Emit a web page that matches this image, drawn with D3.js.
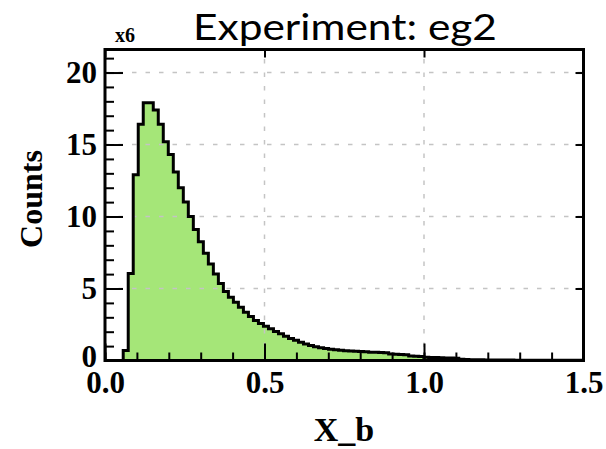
<!DOCTYPE html>
<html>
<head>
<meta charset="utf-8">
<script src="https://cdn.jsdelivr.net/npm/d3@7/dist/d3.min.js"></script>
<style>
  html, body { margin: 0; padding: 0; background: #fff; }
  svg { display: block; }
</style>
</head>
<body>
<svg id="chart" width="606" height="449"></svg>
<script>
// Histogram of X_b, counts in units of 10^6
const binStart = 0.01;
const binWidth = 0.0157;
const counts = [
  0, 0, 0, 0.7, 6.05, 12.9, 16.4, 17.9, 17.9, 17.4,
  16.4, 15.2, 14.3, 13.1, 12.0, 11.0, 10.0, 9.1, 8.25, 7.45,
  6.7, 6.0, 5.35, 4.8, 4.4, 4.05, 3.7, 3.35, 3.05, 2.78,
  2.57, 2.38, 2.2, 2.02, 1.85, 1.68, 1.53, 1.4, 1.27, 1.15,
  1.04, 0.96, 0.89, 0.83, 0.78, 0.74, 0.71, 0.68, 0.66, 0.64,
  0.62, 0.6, 0.58, 0.57, 0.56, 0.54, 0.46, 0.44, 0.42, 0.4,
  0.32, 0.3, 0.28, 0.22, 0.21, 0.2, 0.19, 0.18, 0.17, 0.15,
  0.08, 0.07, 0.06, 0.05, 0.05, 0.04, 0.04, 0.03, 0.03, 0.03,
  0.03, 0.02, 0.02, 0.02, 0.02, 0.02, 0.01, 0.01, 0.01, 0.01,
  0.01, 0.01, 0.01, 0.01, 0.01
];
const xTicks = [0, 0.5, 1.0, 1.5];
const xMinorTicks = d3.range(0, 15.01, 1).map(d => d / 10);
const yTicks = [0, 5, 10, 15, 20];
const yMinorTicks = d3.range(0, 22, 1);
const xGrid = [0.5, 1.0];
const yGrid = [5, 10, 15, 20];
const titleText = "Experiment: eg2";
const xLabel = "X_b";
const yLabel = "Counts";
const exponentLabel = "x6";

const svg = d3.select("#chart");
const frame = { left: 105, right: 583.5, top: 49.5, bottom: 360.5 };

const x = d3.scaleLinear().domain([0, 1.5]).range([frame.left, frame.right]);
const y = d3.scaleLinear().domain([0, 21.6]).range([frame.bottom, frame.top]);

const serif = "'Liberation Serif', 'Times New Roman', serif";

svg.append("defs").append("clipPath").attr("id", "plotClip")
  .append("rect")
  .attr("x", frame.left).attr("y", frame.top)
  .attr("width", frame.right - frame.left)
  .attr("height", frame.bottom - frame.top);

// Step outline of the histogram
let pts = [[x(binStart), y(0)]];
counts.forEach((c, i) => {
  const x0 = x(binStart + i * binWidth);
  const x1 = x(binStart + (i + 1) * binWidth);
  pts.push([x0, y(c)], [x1, y(c)]);
});
pts.push([x(binStart + counts.length * binWidth), y(0)]);
const stepPath = d3.line()(pts);

const plot = svg.append("g").attr("clip-path", "url(#plotClip)");

plot.append("path")
  .attr("d", stepPath + "Z")
  .attr("fill", "#a5e678")
  .attr("stroke", "none");

// Dashed grid
const grid = plot.append("g")
  .attr("stroke", "#c4c4c4")
  .attr("stroke-width", 1.5)
  .attr("stroke-dasharray", "4.5,9");
grid.selectAll(".gx").data(xGrid).join("line")
  .attr("x1", d => x(d)).attr("x2", d => x(d))
  .attr("y1", frame.bottom).attr("y2", frame.top);
grid.selectAll(".gy").data(yGrid).join("line")
  .attr("x1", frame.left).attr("x2", frame.right)
  .attr("y1", d => y(d)).attr("y2", d => y(d));

plot.append("path")
  .attr("d", stepPath)
  .attr("fill", "none")
  .attr("stroke", "#000")
  .attr("stroke-width", 3)
  .attr("stroke-linejoin", "miter");

// Axes with inward ticks
function styleAxis(g) {
  g.select(".domain").remove();
  g.selectAll(".tick line").attr("stroke", "#000").attr("stroke-width", 2);
}

svg.append("g")
  .attr("transform", `translate(0,${frame.bottom})`)
  .call(d3.axisBottom(x).tickValues(xMinorTicks).tickSize(-8).tickFormat(""))
  .call(styleAxis);

svg.append("g")
  .attr("transform", `translate(0,${frame.bottom})`)
  .call(d3.axisBottom(x).tickValues(xTicks).tickSize(-17).tickPadding(10)
    .tickFormat(d3.format(".1f")))
  .call(styleAxis)
  .call(g => g.selectAll("text")
    .attr("font-family", serif).attr("font-weight", "bold")
    .attr("font-size", 31).attr("fill", "#000"));

svg.append("g")
  .attr("transform", `translate(0,${frame.top})`)
  .call(d3.axisTop(x).tickValues(xTicks).tickSize(-8).tickFormat(""))
  .call(styleAxis);

svg.append("g")
  .attr("transform", `translate(${frame.left},0)`)
  .call(d3.axisLeft(y).tickValues(yMinorTicks).tickSize(-9).tickFormat(""))
  .call(styleAxis);

svg.append("g")
  .attr("transform", `translate(${frame.left},0)`)
  .call(d3.axisLeft(y).tickValues(yTicks).tickSize(-18).tickPadding(8)
    .tickFormat(d3.format("d")))
  .call(styleAxis)
  .call(g => g.selectAll("text")
    .attr("font-family", serif).attr("font-weight", "bold")
    .attr("font-size", 31).attr("fill", "#000"))
  .call(g => g.selectAll(".tick").filter(d => d === 0).select("text")
    .attr("dy", "0.2em"));

svg.append("g")
  .attr("transform", `translate(${frame.right},0)`)
  .call(d3.axisRight(y).tickValues(yTicks).tickSize(-8).tickFormat(""))
  .call(styleAxis);

// Frame
svg.append("rect")
  .attr("x", frame.left).attr("y", frame.top)
  .attr("width", frame.right - frame.left)
  .attr("height", frame.bottom - frame.top)
  .attr("fill", "none")
  .attr("stroke", "#000")
  .attr("stroke-width", 3);

// Titles
svg.append("text")
  .attr("x", 345).attr("y", 40)
  .attr("text-anchor", "middle")
  .attr("font-family", "Lato, 'Open Sans', sans-serif")
  .attr("font-weight", 400)
  .attr("font-size", 36)
  .attr("textLength", 304)
  .attr("lengthAdjust", "spacingAndGlyphs")
  .attr("fill", "#000")
  .text(titleText);

svg.append("text")
  .attr("x", 115).attr("y", 42)
  .attr("font-family", serif).attr("font-weight", "bold")
  .attr("font-size", 20)
  .text(exponentLabel);

svg.append("text")
  .attr("x", 344).attr("y", 441)
  .attr("text-anchor", "middle")
  .attr("font-family", serif).attr("font-weight", "bold")
  .attr("font-size", 34)
  .text(xLabel);

svg.append("text")
  .attr("transform", "translate(42,199) rotate(-90)")
  .attr("text-anchor", "middle")
  .attr("font-family", serif).attr("font-weight", "bold")
  .attr("font-size", 32)
  .text(yLabel);
</script>
</body>
</html>
